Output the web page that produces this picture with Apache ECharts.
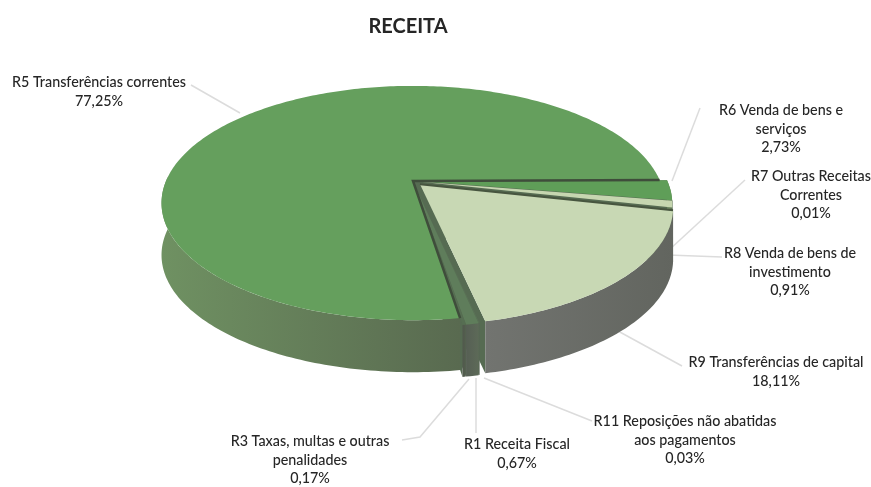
<!DOCTYPE html>
<html lang="pt">
<head>
    <meta charset="UTF-8">
    <title>Receita</title>
    <script src="https://cdn.jsdelivr.net/npm/echarts@6/dist/echarts.min.js"></script>
    <style>
        html, body { margin: 0; background: #fff; }
        #chart { width: 871px; height: 487px; }
    </style>
</head>
<body>
<div id="chart"></div>
<script type="text/javascript">
    var names = [
        'R5 Transferências correntes',
        'R6 Venda de bens e\nserviços',
        'R7 Outras Receitas\nCorrentes',
        'R8 Venda de bens de\ninvestimento',
        'R9 Transferências de capital',
        'R11 Reposições não abatidas\naos pagamentos',
        'R1 Receita Fiscal',
        'R3 Taxas, multas e outras\npenalidades'
    ];
    var values = [77.25, 2.73, 0.01, 0.91, 18.11, 0.03, 0.67, 0.17];

    var topColors = ['#659f5d', '#5f9e58', '#c6d6b0', '#c6d6b0', '#c8d8b4', '#5c7458', '#5f7d5b', '#566e52'];
    var wallColors = [
        ['#6f9162', '#596a50'],
        ['#6f8a62', '#5f7355'], ['#777a72', '#6a6d66'], ['#777a72', '#666963'], ['#727470', '#62655f'],
        ['#5b6358', '#5b6358'], ['#565f54', '#5d6a58'], ['#50594c', '#545e4f']
    ];
    var explode = [0, 0.03, 0.03, 0.03, 0.04, 0.04, 0.04, 0.04];

    // label centre and leader line for each slice
    var labelAt = [[99, 92], [781, 129], [811, 195], [790, 272], [776, 372], [685, 440], [517, 454], [310, 460]];
    var leaders = [
        [[240, 113], [191, 85]],
        [[672, 181], [700, 108]],
        [[669, 250], [745, 180]],
        [[668, 255], [722, 257]],
        [[618, 331], [682, 366]],
        [[484, 378], [592, 421]],
        [[476, 378], [476, 433]],
        [[469, 379], [420, 437], [402, 440]]
    ];

    // projection of the tilted disc
    var cx = 413, cy = 181, rx = 247, ry = 113, persp = 0.188, depth = 52;
    var total = values.reduce(function (a, b) { return a + b; }, 0);
    var startDeg = -0.5 - values[0] / total * 360;

    function project(u, v) {
        var w = 1 - persp * v;
        return [cx + rx * u / w, cy + ry * v / w];
    }

    function down(p) { return [p[0], p[1] + depth]; }

    function arcPoints(a0, a1, ox, oy) {
        var pts = [];
        var n = Math.max(2, Math.ceil(a1 - a0));
        for (var i = 0; i <= n; i++) {
            var t = (a0 + (a1 - a0) * i / n) * Math.PI / 180;
            pts.push(project(ox + Math.cos(t), oy + Math.sin(t)));
        }
        return pts;
    }

    function poly(points, fill, z2) {
        return { type: 'polygon', z2: z2, shape: { points: points }, style: { fill: fill } };
    }

    function renderSlice(params, api) {
        var i = params.dataIndex;
        var value = api.value(0);
        var before = 0;
        for (var k = 0; k < i; k++) before += values[k];
        var a0 = startDeg + before / total * 360;
        var a1 = a0 + value / total * 360;
        var mid = (a0 + a1) / 2 * Math.PI / 180;
        var ox = explode[i] * Math.cos(mid), oy = explode[i] * Math.sin(mid);

        var apex = project(ox, oy);
        var rim = arcPoints(a0, a1, ox, oy);
        var first = rim[0], last = rim[rim.length - 1];
        var children = [];

        children.push({ type: 'polyline', z2: 0, shape: { points: leaders[i] }, style: { stroke: '#dcdcdc', lineWidth: 1.5, fill: null } });

        var wallFill = {
            type: 'linear', x: 0, y: 0, x2: 1, y2: 0,
            colorStops: [{ offset: 0, color: wallColors[i][0] }, { offset: 1, color: wallColors[i][1] }]
        };
        // cut faces, the big slice's top and wall hide what falls behind it
        children.push(poly([apex, first, down(first), down(apex)], '#566b52', 1));
        children.push(poly([apex, last, down(last), down(apex)], '#566b52', 1));
        // outer wall, only the part facing the viewer
        var shift = a0 < -2 ? 360 : 0;
        var w0 = Math.max(a0 + shift, -2), w1 = Math.min(a1 + shift, 182);
        if (w1 > w0) {
            var wall = arcPoints(w0, w1, ox, oy);
            children.push(poly(wall.concat(wall.map(down).reverse()), wallFill, 2));
        }
        // top face
        children.push(poly([apex].concat(rim), topColors[i], i === 0 ? 4 : 3));
        // dark cut lines
        if (i === 0) {
            children.push({ type: 'polyline', z2: 5, shape: { points: [first, apex, last] }, style: { stroke: '#3f4d3b', lineWidth: 2.5, fill: null } });
        } else if (i === 4) {
            children.push({ type: 'polyline', z2: 5, shape: { points: [first, apex] }, style: { stroke: '#47553f', lineWidth: 2, fill: null } });
        }

        children.push({
            type: 'text',
            z2: 6,
            x: labelAt[i][0],
            y: labelAt[i][1],
            style: {
                text: names[i] + '\n' + value.toFixed(2).replace('.', ',') + '%',
                font: '500 14.3px Lato',
                fill: '#262626',
                align: 'center',
                verticalAlign: 'middle',
                lineHeight: 18.5
            }
        });
        return { type: 'group', children: children };
    }

    var myChart = echarts.init(document.getElementById('chart'));

    var option = {
        animation: false,
        backgroundColor: '#ffffff',
        title: {
            text: 'RECEITA',
            left: 403,
            top: 12,
            textAlign: 'center',
            textStyle: { fontFamily: 'Lato', fontSize: 20, fontWeight: 'bold', color: '#262626' }
        },
        series: [
            {
                name: 'Receita',
                type: 'custom',
                coordinateSystem: 'none',
                data: values.map(function (v, i) { return { value: [v], name: names[i] }; }),
                renderItem: renderSlice
            }
        ]
    };

    myChart.setOption(option);
</script>
</body>
</html>
